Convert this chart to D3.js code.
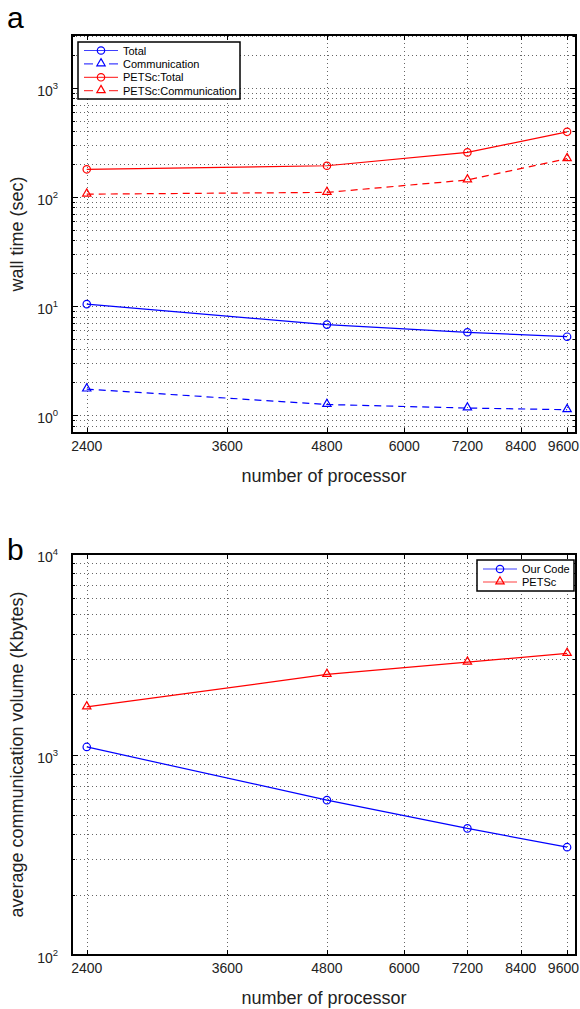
<!DOCTYPE html>
<html>
<head>
<meta charset="utf-8">
<script src="https://cdn.jsdelivr.net/npm/d3@7"></script>
<style>
  body { margin: 0; background: #fff; }
  svg { display: block; font-family: "Liberation Sans", Arial, Helvetica, sans-serif; }
</style>
</head>
<body>
<svg id="chart" width="580" height="1009"></svg>
<script>
// data
const procs = [2400, 4800, 7200, 9600]
const xTicks = [2400, 3600, 4800, 6000, 7200, 8400, 9600]

// panel a: wall time (sec)
const totalTime = [10.4, 6.75, 5.74, 5.23]
const commTime = [1.73, 1.25, 1.16, 1.12]
const petscTotalTime = [179, 193, 256, 395]
const petscCommTime = [106, 110, 143, 224]
const timeDecades = [1, 10, 100, 1000]

// panel b: average communication volume (Kbytes)
const ourVolume = [1091, 592, 428, 345]
const petscVolume = [1727, 2507, 2886, 3191]
const volumeDecades = [100, 1000, 10000]

const svg = d3.select('#chart')
const left = 72, right = 576

function minorValues(domain) {
    let out = []
    let lo = Math.floor(Math.log10(domain[0])), hi = Math.ceil(Math.log10(domain[1]))
    for (let e = lo; e <= hi; e++) {
        for (let m = 1; m < 10; m++) {
            let v = m * Math.pow(10, e)
            if (v >= domain[0] && v <= domain[1]) out.push(v)
        }
    }
    return out
}

function drawPanel(cfg) {
    const x = d3.scaleLog().domain([2300, 9850]).range([left, right])
    const y = d3.scaleLog().domain(cfg.yDomain).range([cfg.bottom, cfg.top])
    const g = svg.append('g')

    // grid (dotted, like matlab "grid on; grid minor")
    const grid = g.append('g').attr('stroke', '#666').attr('stroke-width', 1).attr('stroke-dasharray', '1,3')
    minorValues(cfg.yDomain).forEach(v => {
        let yy = Math.round(y(v)) + 0.5
        grid.append('line').attr('x1', left).attr('x2', right).attr('y1', yy).attr('y2', yy)
    })
    xTicks.forEach(v => {
        let xx = Math.round(x(v)) + 0.5
        grid.append('line').attr('x1', xx).attr('x2', xx).attr('y1', cfg.top).attr('y2', cfg.bottom)
    })

    // series
    cfg.series.forEach(s => {
        const line = d3.line().x((d, i) => x(procs[i])).y(d => y(d))
        g.append('path')
            .datum(s.values)
            .attr('d', line)
            .attr('fill', 'none')
            .attr('stroke', s.color)
            .attr('stroke-width', 1.2)
            .attr('stroke-dasharray', s.dashed ? '7,5' : null)
        s.values.forEach((v, i) => drawMarker(g, s, x(procs[i]), y(v)))
    })

    // frame + ticks
    const ax = g.append('g').attr('stroke', '#000')
    ax.append('rect').attr('x', left).attr('y', cfg.top)
        .attr('width', right - left).attr('height', cfg.bottom - cfg.top)
        .attr('fill', 'none').attr('stroke-width', 2)
    xTicks.forEach(v => {
        let xx = Math.round(x(v)) + 0.5
        ax.append('line').attr('x1', xx).attr('x2', xx).attr('y1', cfg.bottom).attr('y2', cfg.bottom - 5)
        ax.append('line').attr('x1', xx).attr('x2', xx).attr('y1', cfg.top).attr('y2', cfg.top + 5)
    })
    minorValues(cfg.yDomain).forEach(v => {
        let yy = Math.round(y(v)) + 0.5
        let len = cfg.decades.includes(v) ? 6 : 3
        ax.append('line').attr('x1', left).attr('x2', left + len).attr('y1', yy).attr('y2', yy)
        ax.append('line').attr('x1', right).attr('x2', right - len).attr('y1', yy).attr('y2', yy)
    })

    // tick labels (last one pushed inside the page edge, as in the figure)
    xTicks.forEach((v, i) => {
        let last = i === xTicks.length - 1
        g.append('text').attr('x', last ? 579 : x(v)).attr('y', cfg.bottom + 18)
            .attr('text-anchor', last ? 'end' : 'middle').attr('font-size', 14).attr('fill', '#222')
            .text(v)
    })
    cfg.decades.forEach(v => {
        let t = g.append('text').attr('x', left - 14).attr('y', y(v) + 8)
            .attr('text-anchor', 'end').attr('font-size', 14).attr('fill', '#222')
        t.append('tspan').text('10')
        t.append('tspan').attr('dy', -7).attr('font-size', 9.5).text(Math.round(Math.log10(v)))
    })

    // axis labels
    g.append('text').attr('x', (left + right) / 2).attr('y', cfg.bottom + 49)
        .attr('text-anchor', 'middle').attr('font-size', 18).attr('fill', '#222')
        .text('number of processor')
    g.append('text')
        .attr('transform', 'translate(23,' + ((cfg.top + cfg.bottom) / 2) + ') rotate(-90)')
        .attr('text-anchor', 'middle').attr('font-size', 18).attr('fill', '#222')
        .text(cfg.yLabel)

    // panel letter
    svg.append('text').attr('x', 7).attr('y', cfg.letterY)
        .attr('font-size', 30).attr('fill', '#000').text(cfg.letter)

    // legend
    const lg = cfg.legend
    const box = g.append('g')
    box.append('rect').attr('x', lg.x).attr('y', lg.y).attr('width', lg.w).attr('height', lg.h)
        .attr('fill', '#fff').attr('stroke', '#000').attr('stroke-width', 1.5)
    cfg.series.forEach((s, i) => {
        let yy = lg.y + lg.first + i * lg.step
        box.append('line').attr('x1', lg.x + 6).attr('x2', lg.x + 40).attr('y1', yy).attr('y2', yy)
            .attr('stroke', s.color).attr('stroke-width', 1.2).attr('opacity', 0.75)
            .attr('stroke-dasharray', s.dashed ? '9,8,0,8,9' : null)
        drawMarker(box, s, lg.x + 23, yy)
        box.append('text').attr('x', lg.x + 45).attr('y', yy + 4)
            .attr('font-size', 11).attr('fill', '#000').text(s.name)
    })
}

function drawMarker(g, s, cx, cy) {
    if (s.marker === 'circle') {
        g.append('circle').attr('cx', cx).attr('cy', cy).attr('r', 3.7)
            .attr('fill', 'none').attr('stroke', s.color).attr('stroke-width', 1.2)
    } else {
        const sym = d3.symbol().type(d3.symbolTriangle).size(30)
        g.append('path').attr('d', sym()).attr('transform', 'translate(' + cx + ',' + (cy - 0.5) + ')')
            .attr('fill', 'none').attr('stroke', s.color).attr('stroke-width', 1.2)
    }
}

drawPanel({
    letter: 'a', letterY: 28,
    top: 35, bottom: 433,
    yDomain: [0.685, 3050],
    decades: timeDecades,
    yLabel: 'wall time (sec)',
    series: [
        { name: 'Total', values: totalTime, color: '#0000ff', marker: 'circle', dashed: false },
        { name: 'Communication', values: commTime, color: '#0000ff', marker: 'triangle', dashed: true },
        { name: 'PETSc:Total', values: petscTotalTime, color: '#ff0000', marker: 'circle', dashed: false },
        { name: 'PETSc:Communication', values: petscCommTime, color: '#ff0000', marker: 'triangle', dashed: true }
    ],
    legend: { x: 78, y: 42, w: 162, h: 57, first: 8.5, step: 13.4 }
})

drawPanel({
    letter: 'b', letterY: 560,
    top: 554, bottom: 955,
    yDomain: [100, 10000],
    decades: volumeDecades,
    yLabel: 'average communication volume (Kbytes)',
    series: [
        { name: 'Our Code', values: ourVolume, color: '#0000ff', marker: 'circle', dashed: false },
        { name: 'PETSc', values: petscVolume, color: '#ff0000', marker: 'triangle', dashed: false }
    ],
    legend: { x: 477, y: 560, w: 97, h: 31, first: 9, step: 13 }
})
</script>
</body>
</html>
